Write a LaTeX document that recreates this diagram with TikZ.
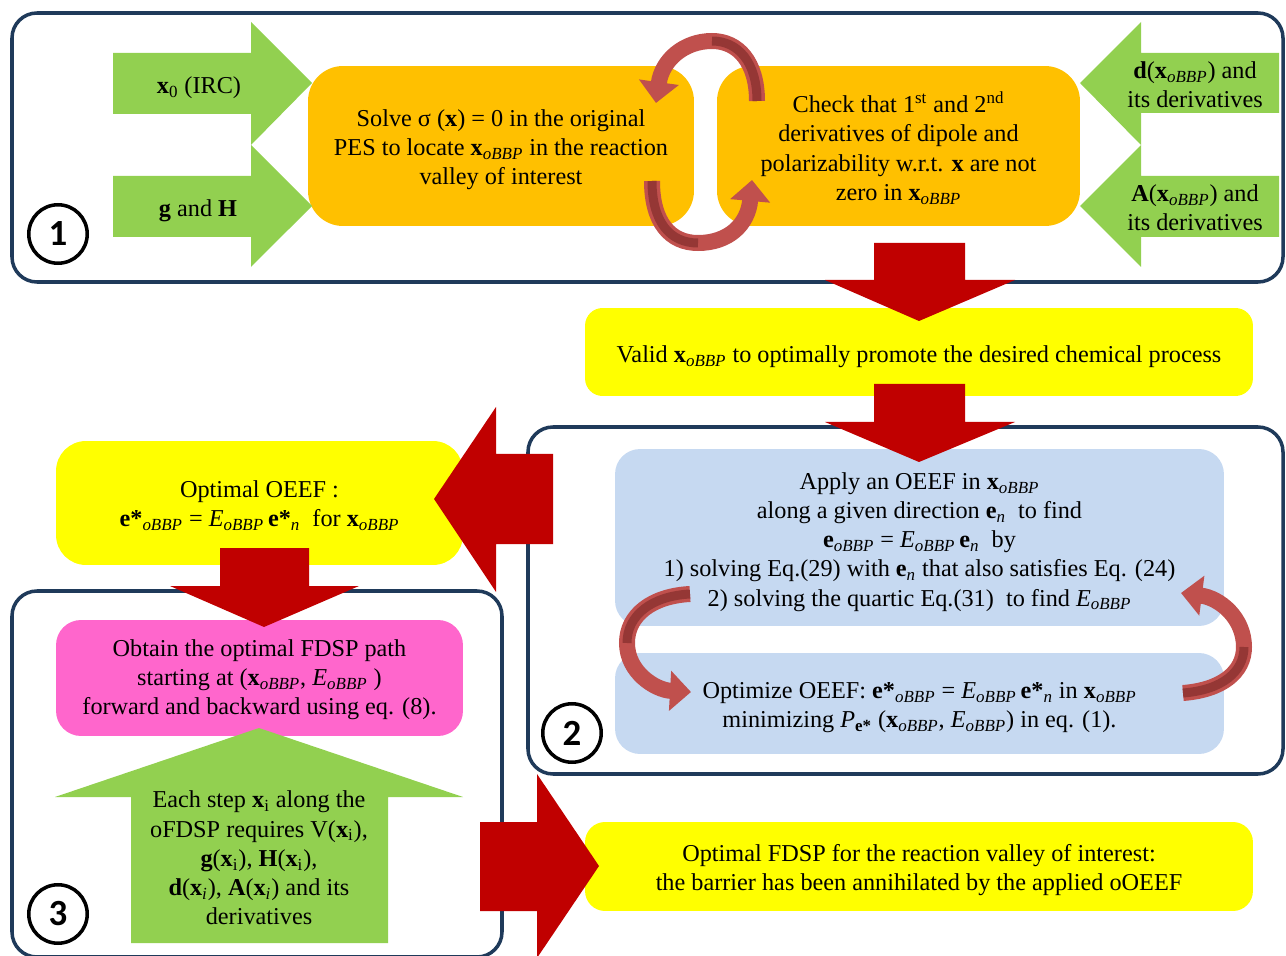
\documentclass[tikz,border=0pt]{standalone}
\usepackage{amsmath}
\usepackage{fontspec}
\setmainfont{Liberation Serif}
\newfontfamily\numfont{Carlito}
\usepackage{tikz}
\usetikzlibrary{arrows.meta}

\definecolor{framenavy}{HTML}{1F3A5A}
\definecolor{boxorange}{HTML}{FFC000}
\definecolor{boxyellow}{HTML}{FFFF00}
\definecolor{boxpink}{HTML}{FF66CC}
\definecolor{boxblue}{HTML}{C6D9F1}
\definecolor{leafgreen}{HTML}{92D050}
\definecolor{blockred}{HTML}{C00000}
\definecolor{ribbonred}{HTML}{C0504D}
\definecolor{ribbondark}{HTML}{953735}

\newcommand{\subtxt}[1]{\textsubscript{#1}}
\newcommand{\xo}{\textbf{x}\subtxt{\textit{oBBP}}}
\newcommand{\Eo}{\textit{E}\subtxt{\textit{oBBP}}}

\begin{document}
\begin{tikzpicture}[x=0.02cm, y=-0.02cm,
  every node/.style={font=\fontsize{13.8pt}{16.6pt}\selectfont, align=center, inner sep=0pt},
  frame/.style={draw=framenavy, line width=2pt, rounded corners=0.5cm},
  box/.style={rounded corners=0.6cm},
  redblock/.style={fill=blockred},
  greenblock/.style={fill=leafgreen},
  ribbon/.style={draw=ribbonred, line width=0.32cm, -{Triangle[length=0.42cm,width=0.78cm]}},
  ribbonin/.style={draw=ribbondark, line width=0.18cm},
  numcircle/.style={circle, draw, line width=2pt, minimum size=1.17cm, font=\numfont\bfseries\fontsize{21pt}{21pt}\selectfont}]
\useasboundingbox (0,0) rectangle (1286,956);

% the three frames
\draw[frame] (12,13) rectangle (1283,282);
\draw[frame] (528,427) rectangle (1283,774);
\draw[frame] (12,591) rectangle (502,957);

% boxes
\node[box, fill=boxorange, minimum width=7.72cm, minimum height=3.2cm, rounded corners=0.7cm] (solve) at (501,146) {};
\node[box, fill=boxorange, minimum width=7.26cm, minimum height=3.2cm, rounded corners=0.7cm] (check) at (898.5,146) {};
\node[box, fill=boxyellow, minimum width=13.36cm, minimum height=1.76cm, rounded corners=0.35cm] (valid) at (919,352) {};
\node[box, fill=boxblue, minimum width=12.18cm, minimum height=3.54cm, rounded corners=0.5cm] (apply) at (919.5,537.5) {};
\node[box, fill=boxblue, minimum width=12.18cm, minimum height=2.02cm, rounded corners=0.5cm] (optim) at (919.5,703.5) {};
\node[box, fill=boxyellow, minimum width=8.14cm, minimum height=2.48cm] (oeef) at (259.5,503) {};
\node[box, fill=boxpink, minimum width=8.14cm, minimum height=2.32cm, rounded corners=0.5cm] (fdsp) at (259.5,678) {};
\node[box, fill=boxyellow, minimum width=13.36cm, minimum height=1.78cm, rounded corners=0.4cm] (final) at (919,866.5) {};

% box texts
\node (solvetext) at (501,150) {Solve σ (\textbf{x}) = 0 in the original\\PES to locate \xo{} in the reaction\\valley of interest};
\node (checktext) at (898.5,148) {Check that 1\textsuperscript{st} and 2\textsuperscript{nd}\\derivatives of dipole and\\polarizability w.r.t. \textbf{x} are not\\zero in \xo};
\node (validtext) at (919,357) {Valid \xo{} to optimally promote the desired chemical process};
\node (applytext) at (919.5,542) {Apply an OEEF in \xo\\along a given direction \textbf{e}\subtxt{\textit{n}}\ \ to find\\\textbf{e}\subtxt{\textit{oBBP}} = \Eo\,\textbf{e}\subtxt{\textit{n}}\ \ by\\1) solving Eq.(29) with \textbf{e}\subtxt{\textit{n}} that also satisfies Eq. (24)\\2) solving the quartic Eq.(31)\ \ to find \Eo};
\node (optimtext) at (919.5,708) {Optimize OEEF: \textbf{e*}\subtxt{\textit{oBBP}} = \Eo\,\textbf{e*}\subtxt{\textit{n}} in \xo\\minimizing \textit{P}\subtxt{\textbf{e*}} (\xo, \Eo) in eq. (1).};
\node (oeeftext) at (259.5,505.5) {Optimal OEEF :\\\textbf{e*}\subtxt{\textit{oBBP}} = \Eo\,\textbf{e*}\subtxt{\textit{n}}\ \ for \xo};
\node (fdsptext) at (259.5,680) {Obtain the optimal FDSP path\\starting at (\xo, \Eo\ )\\forward and backward using eq. (8).};
\node (finaltext) at (919,870) {Optimal FDSP for the reaction valley of interest:\\the barrier has been annihilated by the applied oOEEF};

% curved loop arrows
\draw[ribbon] (757,101) .. controls (757,62) and (738,41) .. (712,41) .. controls (684,41) and (662,60) .. (656,103);
\draw[ribbonin] (757,101) .. controls (757,62) and (738,41) .. (712,41);
\draw[ribbon] (652,181) .. controls (652,222) and (670,243) .. (698,243) .. controls (728,243) and (748,225) .. (752,180);
\draw[ribbonin] (652,181) .. controls (652,222) and (670,243) .. (698,243);
\draw[ribbon] (690,594) .. controls (652,596) and (627,615) .. (627,643) .. controls (627,672) and (655,690) .. (691,692);
\draw[ribbonin] (690,594) .. controls (652,596) and (627,615) .. (627,643);
\draw[ribbon] (1183,693) .. controls (1222,690) and (1244,672) .. (1244,647) .. controls (1244,618) and (1220,598) .. (1181,593);
\draw[ribbonin] (1183,693) .. controls (1222,690) and (1244,672) .. (1244,647);

% green input arrows
\fill[greenblock] (113,53) -- (251,53) -- (251,22) -- (312,83) -- (251,145) -- (251,114) -- (113,114) -- cycle;
\fill[greenblock] (113,176) -- (251,176) -- (251,145) -- (312,206) -- (251,267) -- (251,237) -- (113,237) -- cycle;
\fill[greenblock] (1279,53) -- (1141,53) -- (1141,22) -- (1080,83) -- (1141,145) -- (1141,113) -- (1279,113) -- cycle;
\fill[greenblock] (1279,176) -- (1141,176) -- (1141,145) -- (1080,206) -- (1141,267) -- (1141,237) -- (1279,237) -- cycle;
\fill[greenblock] (131,943) -- (131,797) -- (55,797) -- (259,728) -- (463,797) -- (388,797) -- (388,943) -- cycle;
\node (irc) at (199,88) {\textbf{x}\subtxt{0} (IRC)};
\node (gh) at (198,211) {\textbf{g} and \textbf{H}};
\node (dder) at (1195,85) {\textbf{d}(\xo) and\\its derivatives};
\node (ader) at (1195,208) {\textbf{A}(\xo) and\\its derivatives};
\node (stepreq) at (259,858) {Each step \textbf{x}\subtxt{i} along the\\oFDSP requires V(\textbf{x}\subtxt{i}),\\\textbf{g}(\textbf{x}\subtxt{i}), \textbf{H}(\textbf{x}\subtxt{i}),\\\textbf{d}(\textbf{x}\subtxt{\textit{i}}), \textbf{A}(\textbf{x}\subtxt{\textit{i}}) and its\\derivatives};

% red block arrows
\fill[redblock] (874,243) -- (965,243) -- (965,280) -- (1015,280) -- (919,321) -- (825,280) -- (874,280) -- cycle;
\fill[redblock] (874,384) -- (965,384) -- (965,422) -- (1015,422) -- (919,462) -- (825,422) -- (874,422) -- cycle;
\fill[redblock] (553,454) -- (496,454) -- (496,407) -- (434,499) -- (496,592) -- (496,544) -- (553,544) -- cycle;
\fill[redblock] (220,548) -- (309,548) -- (309,586) -- (359,586) -- (264,627) -- (170,586) -- (220,586) -- cycle;
\fill[redblock] (480,822) -- (537,822) -- (537,774) -- (599,866) -- (537,958) -- (537,911) -- (480,911) -- cycle;

% step numbers
\node[numcircle] (one) at (58,234) {1};
\node[numcircle] (two) at (572,733) {2};
\node[numcircle] (three) at (58,914) {3};
\end{tikzpicture}
\end{document}
